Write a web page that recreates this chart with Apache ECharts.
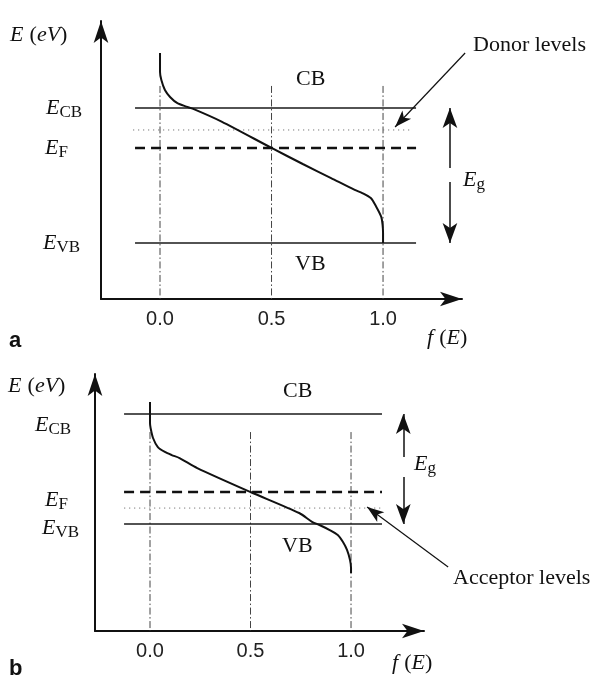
<!DOCTYPE html>
<html><head><meta charset="utf-8">
<script src="https://cdn.jsdelivr.net/npm/echarts@6/dist/echarts.min.js"></script>
<style>html,body{margin:0;padding:0;background:#fff}#c{width:598px;height:676px}</style>
</head><body><div id="c"></div>
<script>
// ---------- data ----------
const fTickValues = [0, 0.5, 1];

// panel a (donor levels, n-type)
const aCurve = [[0,1.407],[0,1.267],[0.006,1.207],[0.022,1.133],[0.046,1.079],[0.078,1.035],[0.118,1.010],[0.149,0.993],[0.276,0.899],[0.5,0.704],[0.64,0.585],[0.767,0.481],[0.873,0.393],[0.907,0.370],[0.945,0.333],[0.970,0.267],[0.992,0.193],[0.998,0.133],[1.0,0.074],[1.0,0]];
const aECB = 1.0, aEF = 0.704, aDonor = 0.837, aEVB = 0;
const aLevelSpan = [-0.112, 1.148];
const aDonorSpan = [-0.121, 1.130];
const aGuideTop = 1.163;
const aEgX = 1.30, aEgGap = [0.452, 0.556];
const aDonorArrow = [[1.368, 1.407], [1.054, 0.859]];

// panel b (acceptor levels, p-type)
const bCurve = [[0,1.109],[0,0.918],[0.003,0.873],[0.015,0.782],[0.039,0.7],[0.074,0.655],[0.108,0.627],[0.147,0.6],[0.235,0.509],[0.5,0.291],[0.742,0.1],[0.808,0.018],[0.843,-0.009],[0.894,-0.055],[0.934,-0.1],[0.960,-0.164],[0.980,-0.236],[0.995,-0.327],[1.0,-0.40],[1.0,-0.445]];
const bECB = 1.0, bEF = 0.291, bAcceptor = 0.145, bEVB = 0;
const bLevelSpan = [-0.129, 1.154];
const bGuideTop = 0.836;
const bEgX = 1.26, bEgGap = [0.427, 0.609];
const bAcceptorArrow = [[1.483, -0.391], [1.080, 0.155]];

// ---------- styles ----------
const serif = '"Liberation Serif","Times New Roman",serif';
const sans = '"Liberation Sans",Arial,sans-serif';
const INK = '#111';
const rich = {
  i: {fontFamily: serif, fontStyle: 'italic', fontWeight: 'normal', fontSize: 22, lineHeight: 26, color: INK},
  r: {fontFamily: serif, fontWeight: 'normal', fontSize: 22, lineHeight: 26, color: INK},
  s: {fontFamily: serif, fontWeight: 'normal', fontSize: 17, lineHeight: 17, verticalAlign: 'bottom', color: INK},
  b: {fontFamily: sans, fontWeight: 'bold', fontSize: 22, lineHeight: 26, color: INK}
};
function txt(left, cy, text) {
  return {text: text, left: left, top: cy - 13, padding: 0, itemGap: 0,
    textStyle: {rich: rich, fontSize: 22, lineHeight: 26, fontWeight: 'normal', color: INK}};
}

const solid = {color: '#1a1a1a', width: 1.6, type: 'solid'};
const dashed = {color: '#111', width: 2.6, type: [10, 6]};
const dotted = {color: '#777', width: 1, type: [1.2, 3.8]};
const dashDot = {color: '#444', width: 1, type: [7, 2.5, 1.5, 2.5]};

function lineSeries(gi, data, style, z) {
  return {type: 'line', xAxisIndex: gi, yAxisIndex: gi, data: data, symbol: 'none',
    lineStyle: style, silent: true, animation: false, clip: false, z: z || 2};
}
function hLine(gi, span, e, style) { return lineSeries(gi, [[span[0], e], [span[1], e]], style); }
function vGuide(gi, f, top, bottom) { return lineSeries(gi, [[f, top], [f, bottom]], dashDot, 1); }
function arrowSeries(gi, arrows, size, width) {
  const s = lineSeries(gi, [], solid, 5);
  s.markLine = {silent: true, animation: false, symbol: ['none', 'arrow'], symbolSize: size,
    lineStyle: {color: INK, width: width, type: 'solid'}, label: {show: false},
    emphasis: {disabled: true},
    data: arrows.map(a => [{coord: a[0]}, {coord: a[1]}])};
  return s;
}

// layout (pixel mapping of the two panels); grids 2,3 are wider hidden overlays
// with the same scales, used for the annotation pointers that reach past the axes
const A = {left: 101, top: 21, width: 361, height: 278, xmin: -0.2646, xmax: 1.354, ymin: -0.4148, ymax: 1.644};
const B = {left: 95, top: 374, width: 329, height: 257, xmin: -0.2736, xmax: 1.363, ymin: -0.9727, ymax: 1.364};
function overlay(P, right) {
  const w = right - P.left;
  return Object.assign({}, P, {width: w, xmax: P.xmin + (P.xmax - P.xmin) * w / P.width});
}
const A2 = overlay(A, 598), B2 = overlay(B, 598);

function xAx(gi, P, hidden) {
  if (hidden) return {gridIndex: gi, type: 'value', min: P.xmin, max: P.xmax, show: false};
  return {gridIndex: gi, type: 'value', min: P.xmin, max: P.xmax,
    axisLine: {show: true, onZero: false, symbol: ['none', 'arrow'], symbolSize: [11, 22], lineStyle: {color: INK, width: 2}},
    axisTick: {show: false}, splitLine: {show: false},
    axisLabel: {customValues: fTickValues, formatter: v => Number(v).toFixed(1), margin: 10,
      fontFamily: sans, fontSize: 20, color: '#222'}};
}
function yAx(gi, P, hidden) {
  if (hidden) return {gridIndex: gi, type: 'value', min: P.ymin, max: P.ymax, show: false};
  return {gridIndex: gi, type: 'value', min: P.ymin, max: P.ymax,
    axisLine: {show: true, onZero: false, symbol: ['none', 'arrow'], symbolSize: [11, 22], lineStyle: {color: INK, width: 2}},
    axisTick: {show: false}, splitLine: {show: false}, axisLabel: {show: false}};
}
function gridOf(P) { return {left: P.left, top: P.top, width: P.width, height: P.height, containLabel: false}; }

const aCurveSeries = lineSeries(0, aCurve, {color: INK, width: 2}, 5);
aCurveSeries.smooth = 0.25;
const bCurveSeries = lineSeries(1, bCurve, {color: INK, width: 2}, 5);
bCurveSeries.smooth = 0.25;

const option = {
  backgroundColor: '#fff',
  animation: false,
  grid: [gridOf(A), gridOf(B), gridOf(A2), gridOf(B2)],
  xAxis: [xAx(0, A), xAx(1, B), xAx(2, A2, true), xAx(3, B2, true)],
  yAxis: [yAx(0, A), yAx(1, B), yAx(2, A2, true), yAx(3, B2, true)],
  title: [
    txt(10, 35, '{i|E} {r|(}{i|eV}{r|)}'),
    txt(46, 108.5, '{i|E}{s|CB}'),
    txt(45, 148.5, '{i|E}{s|F}'),
    txt(43, 243.5, '{i|E}{s|VB}'),
    txt(296, 79.5, '{r|CB}'),
    txt(295, 264.5, '{r|VB}'),
    txt(473, 45, '{r|Donor levels}'),
    txt(463, 180, '{i|E}{s|g}'),
    txt(427, 338, '{i|f} {r|(}{i|E}{r|)}'),
    txt(9, 341, '{b|a}'),

    txt(8, 386, '{i|E} {r|(}{i|eV}{r|)}'),
    txt(35, 425, '{i|E}{s|CB}'),
    txt(45, 500, '{i|E}{s|F}'),
    txt(42, 528.5, '{i|E}{s|VB}'),
    txt(283, 391.5, '{r|CB}'),
    txt(282, 546.5, '{r|VB}'),
    txt(414, 464, '{i|E}{s|g}'),
    txt(453, 578, '{r|Acceptor levels}'),
    txt(392, 663.5, '{i|f} {r|(}{i|E}{r|)}'),
    txt(9, 669, '{b|b}')
  ],
  series: [
    vGuide(0, 0, aGuideTop, A.ymin), vGuide(0, 0.5, aGuideTop, A.ymin), vGuide(0, 1, aGuideTop, A.ymin),
    hLine(0, aLevelSpan, aECB, solid),
    hLine(0, aDonorSpan, aDonor, dotted),
    hLine(0, aLevelSpan, aEF, dashed),
    hLine(0, aLevelSpan, aEVB, solid),
    aCurveSeries,
    arrowSeries(0, [[[aEgX, aEgGap[1]], [aEgX, aECB]], [[aEgX, aEgGap[0]], [aEgX, aEVB]]], [11, 20], 1.5),
    arrowSeries(2, [aDonorArrow], [9, 17], 1.2),

    vGuide(1, 0, bGuideTop, B.ymin), vGuide(1, 0.5, bGuideTop, B.ymin), vGuide(1, 1, bGuideTop, B.ymin),
    hLine(1, bLevelSpan, bECB, solid),
    hLine(1, bLevelSpan, bAcceptor, dotted),
    hLine(1, bLevelSpan, bEF, dashed),
    hLine(1, bLevelSpan, bEVB, solid),
    bCurveSeries,
    arrowSeries(1, [[[bEgX, bEgGap[1]], [bEgX, bECB]], [[bEgX, bEgGap[0]], [bEgX, bEVB]]], [11, 20], 1.5),
    arrowSeries(3, [bAcceptorArrow], [9, 17], 1.2)
  ]
};
const chart = echarts.init(document.getElementById('c'), null, {renderer: 'canvas'});
chart.setOption(option);
</script></body></html>
